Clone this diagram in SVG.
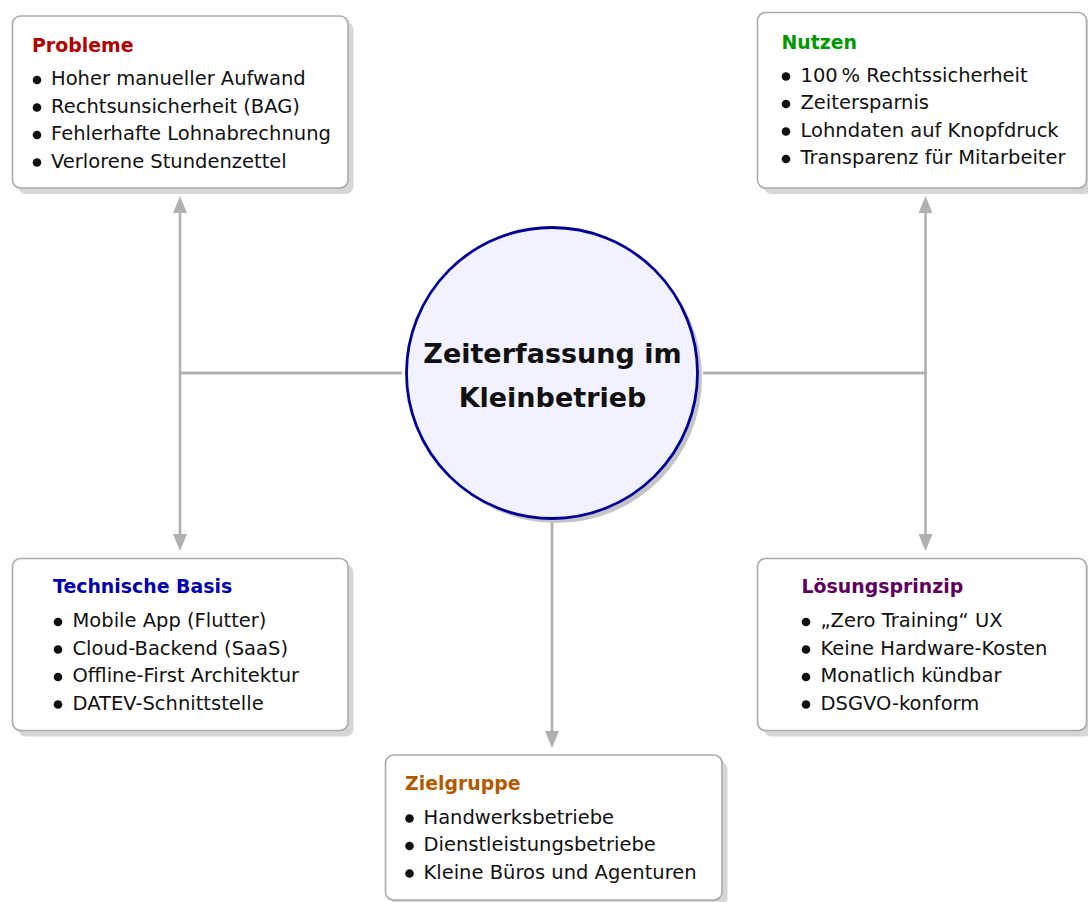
<svg xmlns="http://www.w3.org/2000/svg" width="1088" height="902" viewBox="0 0 1088 902">
<defs>
<style>
.box{fill:#ffffff;stroke:#aaaaaa;stroke-width:1.6}
.shadow{fill:#d6d6d6}
.title{font-family:"DejaVu Sans",sans-serif;font-weight:bold;font-size:18.9px}
.item{font-family:"DejaVu Sans",sans-serif;font-size:19.5px;fill:#111111}
.bul{fill:#111111}
.conn{fill:none;stroke:#b0b0b0;stroke-width:2.6}
.center{font-family:"DejaVu Sans",sans-serif;font-weight:bold;font-size:27px;fill:#111111}
</style>
<marker id="arr" markerUnits="userSpaceOnUse" markerWidth="18" markerHeight="14" refX="9" refY="7" orient="auto">
<path d="M0,0 L17,7 L0,14 Z" fill="#b0b0b0"/>
</marker>
</defs>
<rect width="1088" height="902" fill="#ffffff"/>

<g id="connectors">
<path class="conn" d="M402,373 H180 V204" marker-end="url(#arr)"/>
<path class="conn" d="M402,373 H180 V543" marker-end="url(#arr)"/>
<path class="conn" d="M703,373 H925.5 V204" marker-end="url(#arr)"/>
<path class="conn" d="M703,373 H925.5 V543" marker-end="url(#arr)"/>
<path class="conn" d="M552,521 V740" marker-end="url(#arr)"/>
</g>

<g id="center">
<circle cx="556.5" cy="377.5" r="145.5" fill="#c4c4c4"/>
<circle cx="552" cy="373" r="145.5" fill="#f1f1ff" stroke="#000099" stroke-width="2.8"/>
<text class="center" x="552.5" y="363" text-anchor="middle">Zeiterfassung im</text>
<text class="center" x="552.5" y="406.5" text-anchor="middle">Kleinbetrieb</text>
</g>

<g id="probleme">
<rect class="shadow" x="18" y="22" width="335.5" height="172" rx="8"/>
<rect class="box" x="12.5" y="16" width="335.5" height="172" rx="8"/>
<text class="title" x="32" y="52" fill="#b30000">Probleme</text>
<circle class="bul" cx="37" cy="80" r="4.3"/>
<circle class="bul" cx="37" cy="107.5" r="4.3"/>
<circle class="bul" cx="37" cy="135" r="4.3"/>
<circle class="bul" cx="37" cy="162.5" r="4.3"/>
<text class="item" x="51" y="85">Hoher manueller Aufwand</text>
<text class="item" x="51" y="112.5">Rechtsunsicherheit (BAG)</text>
<text class="item" x="51" y="140">Fehlerhafte Lohnabrechnung</text>
<text class="item" x="51" y="167.5">Verlorene Stundenzettel</text>
</g>

<g id="nutzen">
<rect class="shadow" x="763.5" y="18.5" width="329" height="175.5" rx="8"/>
<rect class="box" x="757.5" y="12.5" width="329" height="175.5" rx="8"/>
<text class="title" x="781.5" y="48.5" fill="#009900">Nutzen</text>
<circle class="bul" cx="786" cy="76.5" r="4.3"/>
<circle class="bul" cx="786" cy="104" r="4.3"/>
<circle class="bul" cx="786" cy="131.5" r="4.3"/>
<circle class="bul" cx="786" cy="159" r="4.3"/>
<text class="item" x="800.5" y="81.5">100&#8201;% Rechtssicherheit</text>
<text class="item" x="800.5" y="109">Zeitersparnis</text>
<text class="item" x="800.5" y="136.5">Lohndaten auf Knopfdruck</text>
<text class="item" x="800.5" y="164">Transparenz für Mitarbeiter</text>
</g>

<g id="technische-basis">
<rect class="shadow" x="18" y="564.5" width="335.5" height="172" rx="8"/>
<rect class="box" x="12.5" y="558.5" width="335.5" height="172" rx="8"/>
<text class="title" x="53" y="593" fill="#0000b3">Technische Basis</text>
<circle class="bul" cx="58" cy="622" r="4.3"/>
<circle class="bul" cx="58" cy="649.5" r="4.3"/>
<circle class="bul" cx="58" cy="677" r="4.3"/>
<circle class="bul" cx="58" cy="704.5" r="4.3"/>
<text class="item" x="72.5" y="627">Mobile App (Flutter)</text>
<text class="item" x="72.5" y="654.5">Cloud-Backend (SaaS)</text>
<text class="item" x="72.5" y="682">Offline-First Architektur</text>
<text class="item" x="72.5" y="709.5">DATEV-Schnittstelle</text>
</g>

<g id="loesungsprinzip">
<rect class="shadow" x="763.5" y="564.5" width="329" height="172" rx="8"/>
<rect class="box" x="757.5" y="558.5" width="329" height="172" rx="8"/>
<text class="title" x="801.5" y="593" fill="#5e005e">Lösungsprinzip</text>
<circle class="bul" cx="806" cy="622" r="4.3"/>
<circle class="bul" cx="806" cy="649.5" r="4.3"/>
<circle class="bul" cx="806" cy="677" r="4.3"/>
<circle class="bul" cx="806" cy="704.5" r="4.3"/>
<text class="item" x="820.5" y="627">„Zero Training“ UX</text>
<text class="item" x="820.5" y="654.5">Keine Hardware-Kosten</text>
<text class="item" x="820.5" y="682">Monatlich kündbar</text>
<text class="item" x="820.5" y="709.5">DSGVO-konform</text>
</g>

<g id="zielgruppe">
<rect class="shadow" x="391" y="761" width="336.5" height="145" rx="8"/>
<rect class="box" x="385.5" y="755" width="336.5" height="145" rx="8"/>
<text class="title" x="405" y="790" fill="#b35900">Zielgruppe</text>
<circle class="bul" cx="409.5" cy="818.5" r="4.3"/>
<circle class="bul" cx="409.5" cy="846" r="4.3"/>
<circle class="bul" cx="409.5" cy="873.5" r="4.3"/>
<text class="item" x="423.5" y="823.5">Handwerksbetriebe</text>
<text class="item" x="423.5" y="851">Dienstleistungsbetriebe</text>
<text class="item" x="423.5" y="878.5">Kleine Büros und Agenturen</text>
</g>
</svg>
